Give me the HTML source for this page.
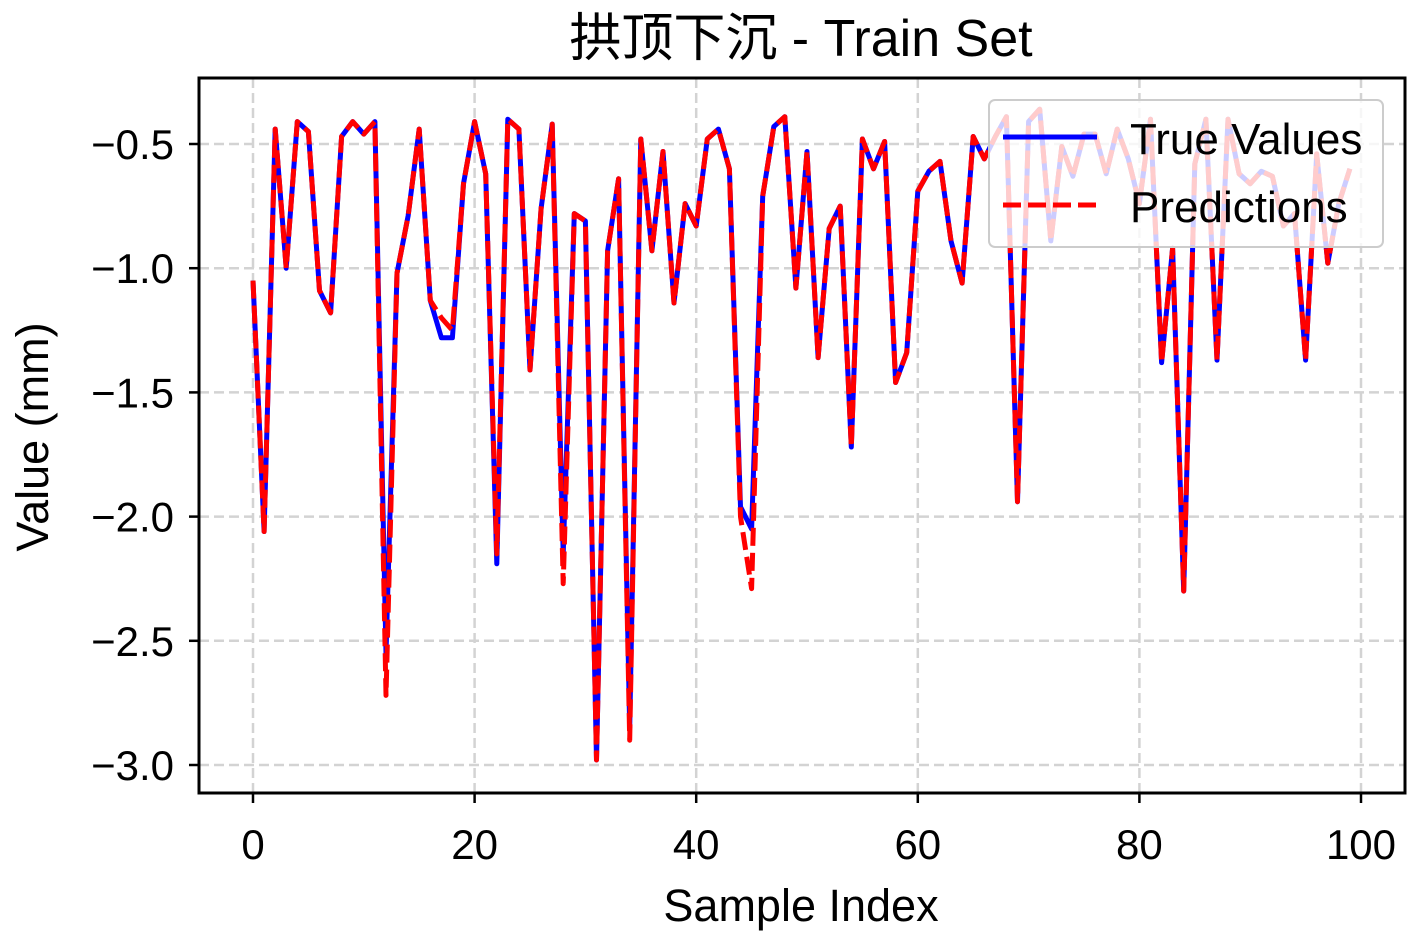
<!DOCTYPE html>
<html><head><meta charset="utf-8">
<style>
html,body{margin:0;padding:0;background:#fff;}
svg text{font-family:"Liberation Sans","Noto Sans CJK SC",sans-serif;fill:#000;}
</style></head>
<body>
<svg id="chart" width="1417" height="944" xmlns="http://www.w3.org/2000/svg">
<rect width="1417" height="944" fill="#fff"/>
<text x="801" y="56" font-size="52" text-anchor="middle">拱顶下沉 - Train Set</text>
<g id="grid"></g>
<g id="ticks"></g>
<g id="series" clip-path="url(#clip)"></g>
<defs><clipPath id="clip"><rect x="199" y="78" width="1206" height="715"/></clipPath></defs>
<rect x="199" y="78" width="1206" height="715" fill="none" stroke="#000" stroke-width="3"/>
<g>
<rect x="989" y="100" width="394" height="147" rx="6" fill="#fff" fill-opacity="0.8" stroke="#ccc" stroke-width="2"/>
<line x1="1003" y1="137" x2="1097" y2="137" stroke="#0000ff" stroke-width="5"/>
<text x="1130" y="154" font-size="44">True Values</text>
<line x1="1003" y1="205" x2="1097" y2="205" stroke="#ff0000" stroke-width="5" stroke-dasharray="18,7"/>
<text x="1130" y="222" font-size="44">Predictions</text>
</g>
<text x="801" y="921" font-size="45" text-anchor="middle">Sample Index</text>
<text transform="translate(48,437) rotate(-90)" font-size="45" text-anchor="middle">Value (mm)</text>
</svg>
<script>
const trueValues=[-1.05,-2.06,-0.44,-1.00,-0.41,-0.45,-1.09,-1.18,-0.47,-0.41,-0.46,-0.41,-2.55,-1.02,-0.79,-0.44,-1.13,-1.28,-1.28,-0.66,-0.41,-0.62,-2.19,-0.40,-0.44,-1.41,-0.76,-0.42,-2.15,-0.78,-0.81,-2.98,-0.93,-0.64,-2.85,-0.48,-0.93,-0.53,-1.14,-0.74,-0.83,-0.48,-0.44,-0.60,-1.96,-2.05,-0.71,-0.43,-0.39,-1.08,-0.53,-1.36,-0.84,-0.75,-1.72,-0.48,-0.60,-0.49,-1.46,-1.34,-0.69,-0.61,-0.57,-0.89,-1.06,-0.47,-0.56,-0.47,-0.39,-1.94,-0.41,-0.36,-0.89,-0.51,-0.63,-0.46,-0.46,-0.62,-0.44,-0.56,-0.74,-0.40,-1.38,-0.92,-2.30,-0.58,-0.40,-1.37,-0.40,-0.62,-0.66,-0.61,-0.63,-0.83,-0.78,-1.37,-0.54,-0.98,-0.74,-0.60];
const predValues=[-1.05,-2.06,-0.44,-1.00,-0.41,-0.45,-1.09,-1.18,-0.47,-0.41,-0.46,-0.41,-2.72,-1.02,-0.79,-0.44,-1.13,-1.20,-1.25,-0.66,-0.41,-0.62,-2.15,-0.40,-0.44,-1.41,-0.76,-0.42,-2.27,-0.78,-0.81,-2.98,-0.93,-0.64,-2.90,-0.48,-0.93,-0.53,-1.14,-0.74,-0.83,-0.48,-0.44,-0.60,-2.00,-2.29,-0.71,-0.43,-0.39,-1.08,-0.53,-1.36,-0.84,-0.75,-1.72,-0.48,-0.60,-0.49,-1.46,-1.34,-0.69,-0.61,-0.57,-0.89,-1.06,-0.47,-0.56,-0.47,-0.39,-1.94,-0.41,-0.36,-0.89,-0.51,-0.63,-0.46,-0.46,-0.62,-0.44,-0.56,-0.74,-0.40,-1.38,-0.92,-2.30,-0.58,-0.40,-1.37,-0.40,-0.62,-0.66,-0.61,-0.63,-0.83,-0.78,-1.37,-0.54,-0.98,-0.74,-0.60];
const xTicks=[0,20,40,60,80,100];
const yTicks=[-0.5,-1.0,-1.5,-2.0,-2.5,-3.0];
const yTickLabels=["−0.5","−1.0","−1.5","−2.0","−2.5","−3.0"];
const NS="http://www.w3.org/2000/svg";
function xs(i){return 253+(1361-253)*i/100;}
function ys(v){return 144+(-0.5-v)*(765-144)/2.5;}
const grid=document.getElementById('grid'),ticks=document.getElementById('ticks'),series=document.getElementById('series');
function mk(tag,attrs,parent){const e=document.createElementNS(NS,tag);for(const k in attrs)e.setAttribute(k,attrs[k]);parent.appendChild(e);return e;}
xTicks.forEach(t=>{
  const x=xs(t);
  const g=mk('line',{x1:x,y1:78,x2:x,y2:793,stroke:'#d3d3d3','stroke-width':2.5,'stroke-dasharray':'10,5'},grid);
  
  
  const tk=mk('line',{x1:x,y1:793,x2:x,y2:803,stroke:'#000','stroke-width':2.5},ticks);
  
  
  const tx=mk('text',{x:x,y:859,'font-size':42,'text-anchor':'middle'},ticks);
  tx.textContent=String(t);
  
  
});
yTicks.forEach((t,i)=>{
  const y=ys(t);
  const g=mk('line',{x1:199,y1:y,x2:1405,y2:y,stroke:'#d3d3d3','stroke-width':2.5,'stroke-dasharray':'10,5'},grid);
  
  
  const tk=mk('line',{x1:189,y1:y,x2:199,y2:y,stroke:'#000','stroke-width':2.5},ticks);
  
  
  const tx=mk('text',{x:174,y:y+15,'font-size':42,'text-anchor':'end'},ticks);
  tx.textContent=yTickLabels[i];
  
  
});
function pts(arr){return arr.map((v,i)=>xs(i).toFixed(1)+','+ys(v).toFixed(1)).join(' ');}
const l1=mk('polyline',{points:pts(trueValues),fill:'none',stroke:'#0000ff','stroke-width':5,'stroke-linejoin':'round'},series);


const l2=mk('polyline',{points:pts(predValues),fill:'none',stroke:'#ff0000','stroke-width':5,'stroke-dasharray':'18,7','stroke-linejoin':'round'},series);


</script>
</body></html>
